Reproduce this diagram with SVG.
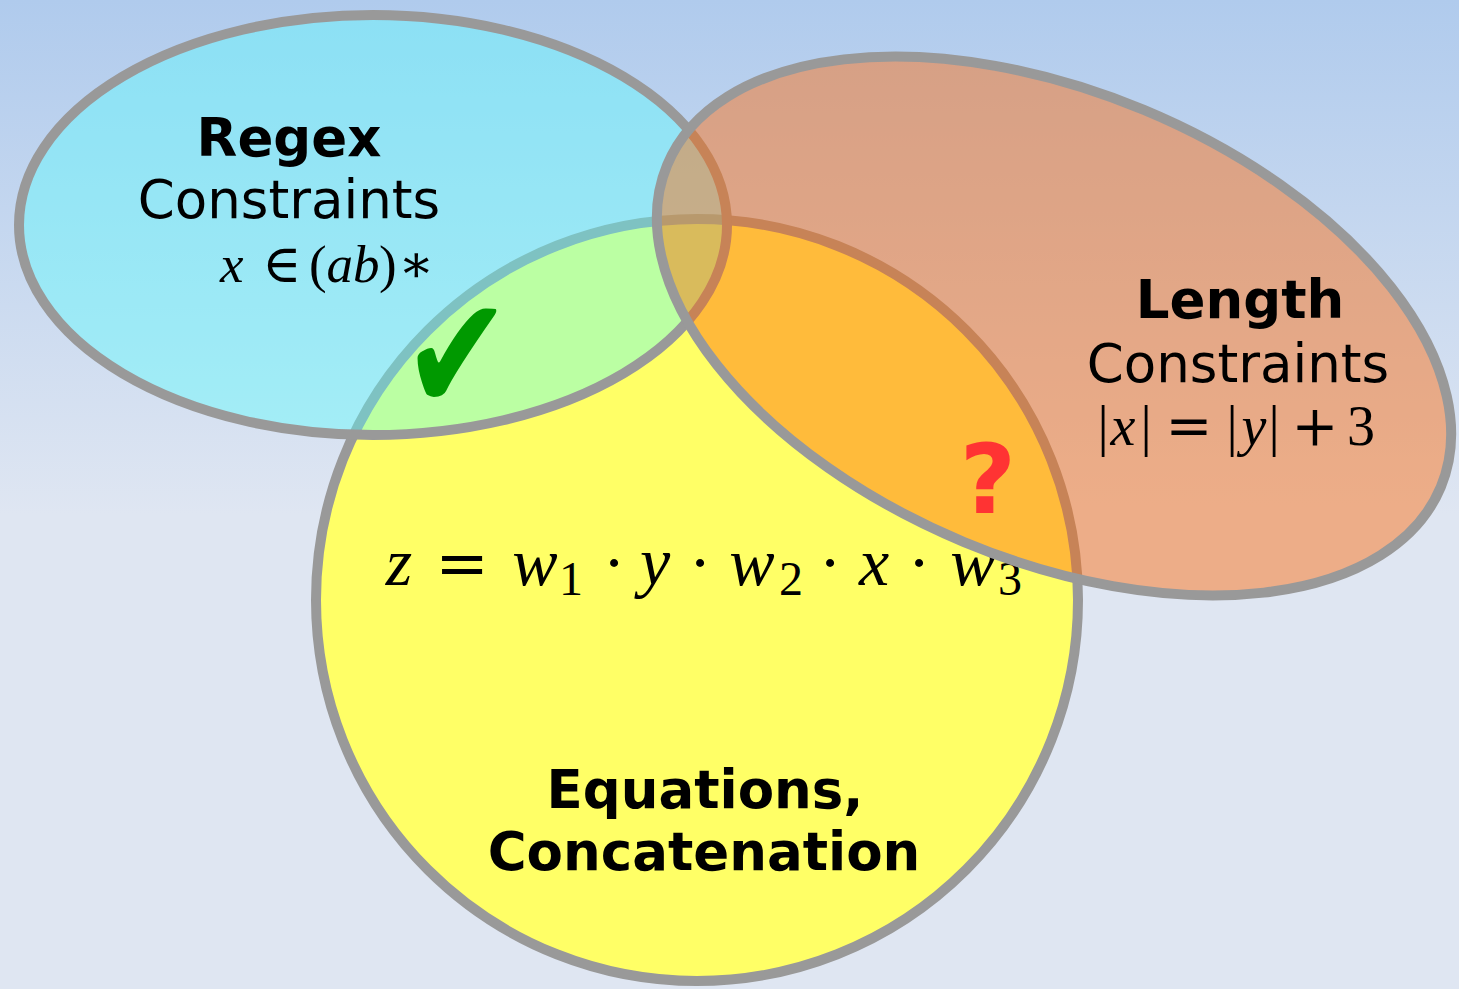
<svg xmlns="http://www.w3.org/2000/svg" width="1459" height="989" viewBox="0 0 1459 989">
<defs>
<linearGradient id="bg" x1="0" y1="0" x2="0" y2="989" gradientUnits="userSpaceOnUse">
<stop offset="0" stop-color="#b0cbed"/>
<stop offset="0.52" stop-color="#dfe6f2"/>
<stop offset="1" stop-color="#dfe6f2"/>
</linearGradient>
<style>
.set{stroke:#999999;stroke-width:10}
.bold{font-family:"DejaVu Sans",sans-serif;font-weight:bold;font-size:53px;fill:#000;text-anchor:middle}
.reg{font-family:"DejaVu Sans",sans-serif;font-size:53px;fill:#000;text-anchor:middle}
.math{font-family:"Liberation Serif","DejaVu Serif",serif;fill:#000;text-anchor:middle}
.ms{text-anchor:start}
.mi{font-style:italic}
.mo{font-family:"DejaVu Serif",serif}
</style>
</defs>
<rect x="0" y="0" width="1459" height="989" fill="url(#bg)"/>

<g id="equations">
<circle class="set" cx="697" cy="600" r="381" fill="#ffff66"/>
<text class="math" font-size="68" y="585"><tspan class="mi" x="399">z</tspan><tspan class="mo" x="462" font-size="64">=</tspan><tspan class="mi" x="535">w</tspan><tspan x="571" y="595" font-size="48">1</tspan><tspan x="614" y="585">·</tspan><tspan class="mi" x="655">y</tspan><tspan x="700">·</tspan><tspan class="mi" x="752">w</tspan><tspan x="791" y="595" font-size="48">2</tspan><tspan x="830" y="585">·</tspan><tspan class="mi" x="874">x</tspan><tspan x="919">·</tspan><tspan class="mi" x="973">w</tspan><tspan x="1010" y="595" font-size="48">3</tspan></text>
<text class="bold" x="705" y="808">Equations,</text>
<text class="bold" x="704" y="870">Concatenation</text>
</g>

<g id="regex">
<ellipse class="set" cx="373" cy="225" rx="354" ry="210" fill="#55ffff" fill-opacity="0.4"/>
<text class="bold" x="289" y="156">Regex</text>
<text class="reg" x="289" y="218">Constraints</text>
<text class="math ms" font-size="53" y="282"><tspan class="mi" x="220">x</tspan><tspan class="mo" x="262">∈</tspan><tspan x="309">(</tspan><tspan class="mi" x="326.5">a</tspan><tspan class="mi" x="353">b</tspan><tspan x="379">)</tspan><tspan class="mo" x="398.5">∗</tspan></text>
</g>

<g id="length">
<ellipse class="set" cx="0" cy="0" rx="419" ry="234" transform="translate(1054 326) rotate(22.6)" fill="#ff6806" fill-opacity="0.45"/>
<text class="bold" x="1240" y="318">Length</text>
<text class="reg" x="1238" y="382">Constraints</text>
<text class="math" font-size="56" y="445"><tspan x="1103">|</tspan><tspan class="mi" x="1123">x</tspan><tspan x="1146">|</tspan><tspan class="mo" x="1189">=</tspan><tspan x="1232">|</tspan><tspan class="mi" x="1254">y</tspan><tspan x="1274">|</tspan><tspan class="mo" x="1315">+</tspan><tspan x="1361">3</tspan></text>
</g>

<g id="check">
<text x="0" y="0" transform="translate(457 411) scale(1 1.25)" font-family="DejaVu Sans,sans-serif" font-size="130" fill="#009900" text-anchor="middle">✔</text>
</g>
<g id="question">
<text x="988" y="513" font-family="DejaVu Sans,sans-serif" font-weight="bold" font-size="97" fill="#ff3333" text-anchor="middle">?</text>
</g>
</svg>
